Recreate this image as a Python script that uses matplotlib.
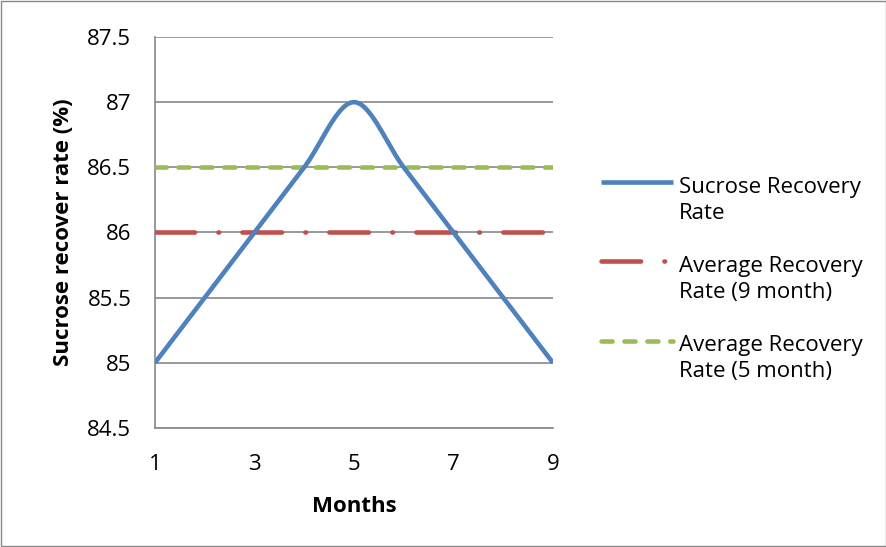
import matplotlib
matplotlib.use("Agg")
import matplotlib.pyplot as plt
from matplotlib.legend_handler import HandlerLine2D
from matplotlib.patches import Rectangle
import numpy as np

plt.rcParams['font.family'] = ['Open Sans', 'DejaVu Sans']
plt.rcParams['lines.scale_dashes'] = False

months = [1, 2, 3, 4, 5, 6, 7, 8, 9]
recovery = [85.0, 85.5, 86.0, 86.5, 87.0, 86.5, 86.0, 85.5, 85.0]
avg_9_month = 86.0
avg_5_month = 86.5

y_ticks = [84.5, 85, 85.5, 86, 86.5, 87, 87.5]
y_labels = ['84.5', '85', '85.5', '86', '86.5', '87', '87.5']
x_ticks = [1, 3, 5, 7, 9]

blue = '#4F81BD'
red = '#C0504D'
green = '#9BBB59'
grid_grey = '#888888'
FS = 16


def smooth_line(x, y, n=30):
    # catmull-rom curve through the points, like a spreadsheet "smoothed line"
    x = np.asarray(x, float)
    y = np.asarray(y, float)
    px = np.concatenate([[x[0]], x, [x[-1]]])
    py = np.concatenate([[y[0]], y, [y[-1]]])
    xs, ys = [], []
    t = np.linspace(0, 1, n)
    for i in range(1, len(px) - 2):
        for p, out in ((px, xs), (py, ys)):
            p0, p1, p2, p3 = p[i - 1], p[i], p[i + 1], p[i + 2]
            out.extend(0.5 * ((2 * p1) + (-p0 + p2) * t
                              + (2 * p0 - 5 * p1 + 4 * p2 - p3) * t ** 2
                              + (-p0 + 3 * p1 - 3 * p2 + p3) * t ** 3))
    return np.array(xs), np.array(ys)


class TopLineHandler(HandlerLine2D):
    # put the legend sample next to the first line of a two-line label
    def create_artists(self, legend, orig_handle, xdescent, ydescent,
                       width, height, fontsize, trans):
        artists = super().create_artists(legend, orig_handle, xdescent, ydescent,
                                         width, height, fontsize, trans)
        for a in artists:
            a.set_ydata(np.asarray(a.get_ydata()) + 0.83 * fontsize)
        return artists


fig = plt.figure(figsize=(8.87, 5.47), dpi=100)
ax = fig.add_axes([0.1747, 0.2176, 0.4487, 0.7148])

sx, sy = smooth_line(months, recovery)
ax.plot(sx, sy, color=blue, lw=3.3, solid_capstyle='butt', zorder=4,
        label='Sucrose Recovery\nRate')
ax.plot([months[0], months[-1]], [avg_9_month] * 2, color=red, lw=3.3,
        dash_capstyle='round', dashes=(28.5, 16.8, 0.5, 16.8), zorder=3,
        label='Average Recovery\nRate (9 month)')
ax.plot([months[0], months[-1]], [avg_5_month] * 2, color=green, lw=3.3,
        dash_capstyle='round', dashes=(8, 8.5), zorder=3,
        label='Average Recovery\nRate (5 month)')

ax.set_xlim(1, 9)
ax.set_ylim(84.5, 87.5)
ax.set_xticks(x_ticks)
ax.set_yticks(y_ticks)
ax.set_yticklabels(y_labels)
ax.tick_params(length=0, labelsize=FS, colors='black')
ax.tick_params(axis='y', pad=17)
ax.tick_params(axis='x', pad=19)
ax.grid(axis='y', color=grid_grey, lw=1.2)
ax.set_axisbelow(True)
for side in ['top', 'right']:
    ax.spines[side].set_visible(False)
for side in ['left', 'bottom']:
    ax.spines[side].set_color(grid_grey)
    ax.spines[side].set_linewidth(1.2)

ax.set_xlabel('Months', fontsize=FS, fontweight='bold', labelpad=15)
ax.set_ylabel('Sucrose recover rate (%)', fontsize=FS, fontweight='bold',
              labelpad=9.5)

handler = TopLineHandler()
leg = fig.legend(loc='upper left', bbox_to_anchor=(601 / 887, 1 - 177 / 547),
                 frameon=False, fontsize=FS, handlelength=3.25,
                 handletextpad=0.25, labelspacing=1.46, borderpad=0,
                 borderaxespad=0,
                 handler_map={ln: handler for ln in ax.get_lines()})
for t in leg.get_texts():
    t.set_linespacing(1.3)

fig.patches.append(Rectangle((0.001, 0.001), 0.998, 0.998, transform=fig.transFigure,
                             fill=False, edgecolor=grid_grey, lw=1))

fig.savefig('out.png', dpi=100)
